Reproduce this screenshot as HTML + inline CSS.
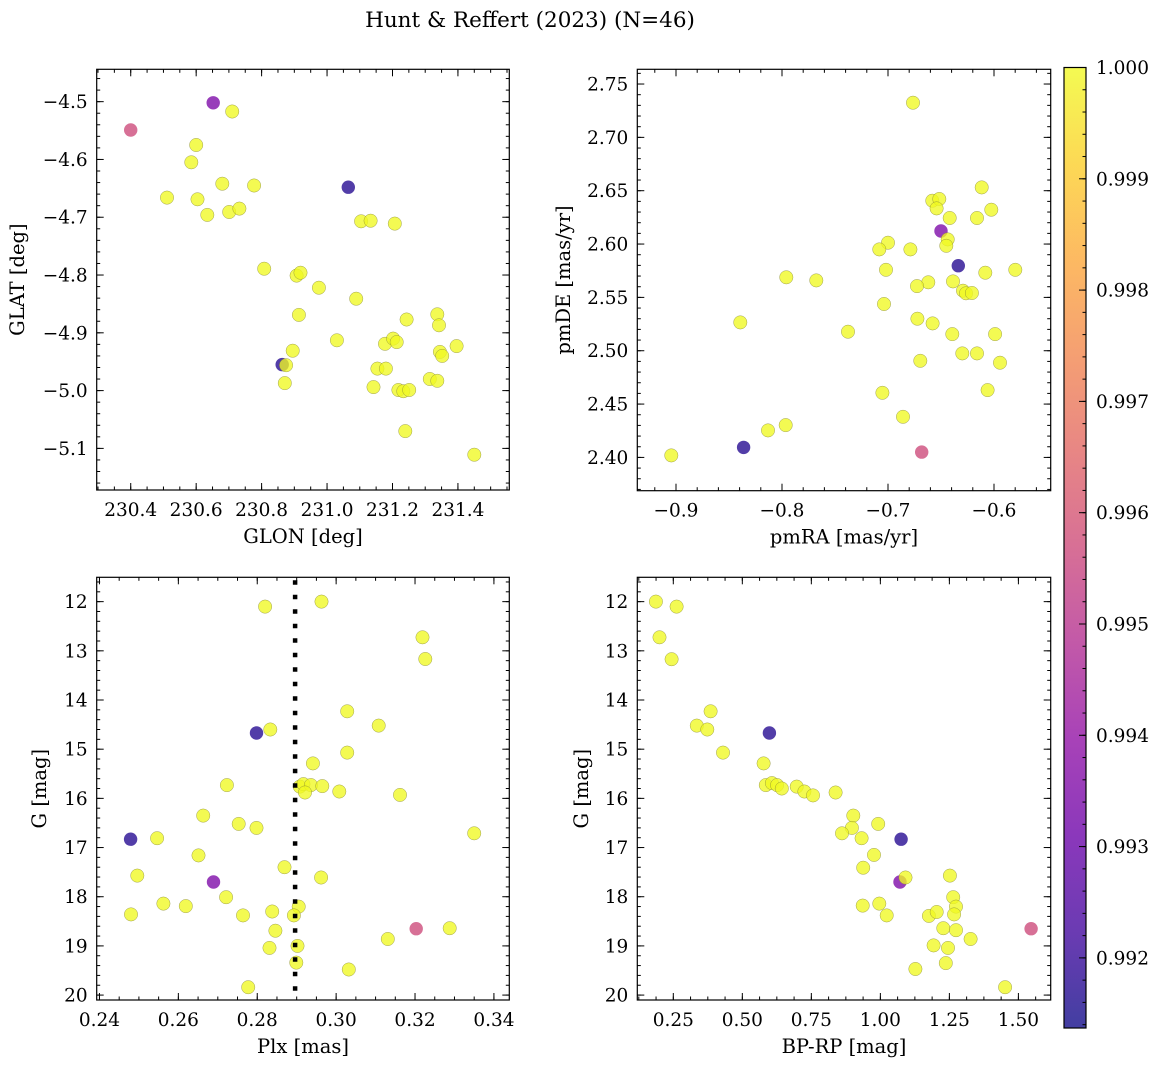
<!DOCTYPE html>
<html><head><meta charset="utf-8"><style>
body{margin:0;background:#fff;}
svg{display:block;font-family:"DejaVu Serif","Liberation Serif",serif;}
</style></head><body>
<svg id="fig" width="1161" height="1067" viewBox="0 0 1161 1067" xmlns="http://www.w3.org/2000/svg">
<rect width="1161" height="1067" fill="#fff"/>
<text x="530" y="27" font-size="21.5" text-anchor="middle">Hunt &amp; Reffert (2023) (N=46)</text>
</svg>
<script>
// ---- data ----
const glon=[230.40,230.652,230.710,230.600,230.585,230.511,230.604,230.680,230.634,230.701,230.732,230.777,231.065,231.104,231.133,231.207,230.808,230.907,230.919,230.975,231.089,230.914,231.337,231.342,231.243,231.030,230.895,231.177,231.202,231.213,231.396,231.345,231.352,231.154,231.180,230.863,230.875,230.871,231.142,231.218,231.233,231.251,231.314,231.337,231.239,231.450];
const glat=[-4.549,-4.502,-4.517,-4.575,-4.605,-4.666,-4.669,-4.642,-4.696,-4.691,-4.685,-4.645,-4.648,-4.707,-4.706,-4.711,-4.789,-4.801,-4.796,-4.822,-4.841,-4.869,-4.868,-4.887,-4.877,-4.913,-4.931,-4.919,-4.910,-4.916,-4.923,-4.933,-4.940,-4.962,-4.962,-4.955,-4.956,-4.987,-4.994,-4.999,-5.001,-4.999,-4.980,-4.983,-5.070,-5.111];
const probA=[0.9957,0.9935,1,1,1,1,1,1,1,1,1,1,0.9917,1,1,1,1,1,1,1,1,1,1,1,1,1,1,1,1,1,1,1,1,1,1,0.9917,1,1,1,1,1,1,1,1,1,1];

const pmra=[-0.6764,-0.6116,-0.6582,-0.6516,-0.6541,-0.6025,-0.6418,-0.6160,-0.6500,-0.6437,-0.6450,-0.7000,-0.7082,-0.6789,-0.6337,-0.7019,-0.6082,-0.5799,-0.7959,-0.7676,-0.6387,-0.6620,-0.6726,-0.6292,-0.6264,-0.6208,-0.7038,-0.6723,-0.6579,-0.8393,-0.7377,-0.6393,-0.5990,-0.6299,-0.6160,-0.6695,-0.5943,-0.7053,-0.6060,-0.6858,-0.7965,-0.8132,-0.8362,-0.6682,-0.9044];
const pmde=[2.7325,2.6531,2.6406,2.6422,2.6334,2.6322,2.6244,2.6244,2.6122,2.6044,2.5984,2.6013,2.5950,2.5950,2.5797,2.5759,2.5731,2.5759,2.5688,2.5659,2.5650,2.5641,2.5606,2.5563,2.5538,2.5541,2.5438,2.5300,2.5256,2.5266,2.5178,2.5156,2.5156,2.4975,2.4975,2.4906,2.4888,2.4606,2.4631,2.4381,2.4303,2.4253,2.4094,2.4050,2.4019];
const probB=[1,1,1,1,1,1,1,1,0.9935,1,1,1,1,1,0.9917,1,1,1,1,1,1,1,1,1,1,1,1,1,1,1,1,1,1,1,1,1,1,1,1,1,1,1,0.9917,0.9957,1];

const plx=[0.2820,0.2963,0.3219,0.3226,0.3028,0.3108,0.2798,0.2833,0.3028,0.2941,0.2723,0.2908,0.2917,0.2936,0.2965,0.2921,0.3008,0.3162,0.2663,0.2753,0.2798,0.3350,0.2479,0.2546,0.2651,0.2496,0.2869,0.2962,0.2689,0.2721,0.2562,0.2619,0.2480,0.2764,0.2838,0.2905,0.2893,0.3203,0.3288,0.2846,0.3131,0.2831,0.2902,0.2899,0.3032,0.2777];
const gmagC=[12.10,12.00,12.725,13.166,14.23,14.52,14.67,14.60,15.07,15.29,15.73,15.76,15.71,15.73,15.75,15.88,15.86,15.93,16.35,16.52,16.60,16.71,16.83,16.81,17.16,17.57,17.40,17.61,17.70,18.01,18.14,18.19,18.36,18.38,18.30,18.20,18.38,18.65,18.64,18.69,18.86,19.04,19.00,19.34,19.48,19.84];
const probC=[1,1,1,1,1,1,0.9917,1,1,1,1,1,1,1,1,1,1,1,1,1,1,1,0.9917,1,1,1,1,1,0.9935,1,1,1,1,1,1,1,1,0.9957,1,1,1,1,1,1,1,1];
const plxRef=[0.2896];

const bprp=[0.187,0.262,0.200,0.244,0.385,0.335,0.373,0.598,0.430,0.577,0.585,0.607,0.626,0.643,0.697,0.725,0.756,0.838,0.902,0.897,0.992,0.861,0.932,1.075,0.977,0.938,1.091,1.071,1.252,1.264,1.274,1.267,0.936,0.996,1.023,1.176,1.204,1.228,1.274,1.327,1.546,1.193,1.245,1.237,1.127,1.452];
const gmagD=[12.00,12.10,12.725,13.17,14.23,14.52,14.60,14.67,15.07,15.29,15.73,15.69,15.73,15.80,15.76,15.86,15.94,15.88,16.35,16.60,16.52,16.71,16.81,16.83,17.15,17.41,17.61,17.70,17.57,18.01,18.20,18.36,18.18,18.14,18.38,18.39,18.31,18.64,18.68,18.86,18.65,18.99,19.04,19.35,19.47,19.84];
const probD=[1,1,1,1,1,1,1,0.9917,1,1,1,1,1,1,1,1,1,1,1,1,1,1,1,0.9917,1,1,1,0.9935,1,1,1,1,1,1,1,1,1,1,1,1,0.9957,1,1,1,1,1];

const cbTicks=[0.992,0.993,0.994,0.995,0.996,0.997,0.998,0.999,1.000];

// ---- helpers ----
const NS="http://www.w3.org/2000/svg";
const svg=document.getElementById('fig');
function mk(tag,attrs,parent){const e=document.createElementNS(NS,tag);for(const k in attrs)e.setAttribute(k,attrs[k]);(parent||svg).appendChild(e);return e;}
const VMIN=0.99137,VMAX=1.0;
const stops=["#0d0887","#41049d","#6a00a8","#8f0da4","#b12a90","#cc4778","#e16462","#f2844b","#fca636","#fcce25","#f0f921"];
function hex(h){return [parseInt(h.substr(1,2),16),parseInt(h.substr(3,2),16),parseInt(h.substr(5,2),16)];}
function plasma(t){t=Math.max(0,Math.min(1,t));const f=t*10,i=Math.min(9,Math.floor(f)),r=f-i;const a=hex(stops[i]),b=hex(stops[i+1]);return "rgb("+a.map((v,k)=>Math.round(v+(b[k]-v)*r)).join(",")+")";}
function fmt(v,d){const s=Math.abs(v).toFixed(d);return (v<-1e-9?"\u2212":"")+s;}
function range(lo,hi,step){const out=[];const a=Math.ceil(lo/step-1e-6),b=Math.floor(hi/step+1e-6);for(let i=a;i<=b;i++)out.push(+(i*step).toFixed(6));return out;}
const TF=18.5, LF=19.5;

function panel(c){
  const g=mk('g',{});
  
  
  const sx=v=>c.L+(v-c.xlim[0])/(c.xlim[1]-c.xlim[0])*(c.R-c.L);
  const sy=v=>c.B-(v-c.ylim[0])/(c.ylim[1]-c.ylim[0])*(c.B-c.T);
  const idx=c.xs.map((_,i)=>i).sort((a,b)=>c.ps[a]-c.ps[b]);
  for(const i of idx){
    const p=c.ps[i];
    const pt=mk('circle',{cx:sx(c.xs[i]).toFixed(1),cy:sy(c.ys[i]).toFixed(1),r:6.7,fill:plasma((p-VMIN)/(VMAX-VMIN)),'fill-opacity':0.78,stroke:p>=0.9999?'#7a7a3a':'none','stroke-width':0.5,'stroke-opacity':0.7},g);
    
    
  }
  if(c.vline){for(const v of c.vline){const ln=mk('line',{x1:sx(v),x2:sx(v),y1:c.T+3,y2:c.B,stroke:'#000','stroke-width':4.5,'stroke-dasharray':'4.5 10'},g);
    
    }}
  mk('rect',{x:c.L,y:c.T,width:c.R-c.L,height:c.B-c.T,fill:'none',stroke:'#000','stroke-width':1.2},g);
  const tk=mk('g',{stroke:'#000','stroke-width':1},g);
  const lo=Math.min(...c.xlim),hi=Math.max(...c.xlim);
  for(const v of range(lo,hi,c.xminor)){const x=sx(v);mk('line',{x1:x,x2:x,y1:c.B,y2:c.B-3.5},tk);mk('line',{x1:x,x2:x,y1:c.T,y2:c.T+3.5},tk);}
  const ylo=Math.min(...c.ylim),yhi=Math.max(...c.ylim);
  for(const v of range(ylo,yhi,c.yminor)){const y=sy(v);mk('line',{x1:c.L,x2:c.L+3.5,y1:y,y2:y},tk);mk('line',{x1:c.R,x2:c.R-3.5,y1:y,y2:y},tk);}
  for(const v of c.xticks){const x=sx(v);mk('line',{x1:x,x2:x,y1:c.B,y2:c.B-7},tk);mk('line',{x1:x,x2:x,y1:c.T,y2:c.T+7},tk);
    const t=mk('text',{x:x,y:c.B+26,'font-size':TF,'text-anchor':'middle'},g);t.textContent=fmt(v,c.xd);
    
    }
  for(const v of c.yticks){const y=sy(v);mk('line',{x1:c.L,x2:c.L+7,y1:y,y2:y},tk);mk('line',{x1:c.R,x2:c.R-7,y1:y,y2:y},tk);
    const t=mk('text',{x:c.L-9,y:y+6.5,'font-size':TF,'text-anchor':'end'},g);t.textContent=fmt(v,c.yd);
    
    }
  const xl=mk('text',{x:(c.L+c.R)/2,y:c.B+53,'font-size':LF,'text-anchor':'middle'},g);xl.textContent=c.xlabel;
  
  
  const yl=mk('text',{x:c.ylx,y:(c.T+c.B)/2,'font-size':LF,'text-anchor':'middle',transform:'rotate(-90 '+c.ylx+' '+(c.T+c.B)/2+')'},g);yl.textContent=c.ylabel;
  
  
}

panel({name:'glon-glat-panel',ptname:'star-point',L:96.7,T:69.3,R:509.3,B:490,xlim:[230.296,231.557],ylim:[-5.172,-4.444],xs:glon,ys:glat,ps:probA,
  xticks:[230.4,230.6,230.8,231.0,231.2,231.4],yticks:[-4.5,-4.6,-4.7,-4.8,-4.9,-5.0,-5.1],xminor:0.05,yminor:0.02,xd:1,yd:1,xlabel:'GLON [deg]',ylabel:'GLAT [deg]',ylx:24});
panel({name:'proper-motion-panel',ptname:'star-point',L:637.3,T:69.3,R:1050.7,B:490.7,xlim:[-0.9365,-0.5465],ylim:[2.3688,2.7638],xs:pmra,ys:pmde,ps:probB,
  xticks:[-0.9,-0.8,-0.7,-0.6],yticks:[2.40,2.45,2.50,2.55,2.60,2.65,2.70,2.75],xminor:0.02,yminor:0.01,xd:1,yd:2,xlabel:'pmRA [mas/yr]',ylabel:'pmDE [mas/yr]',ylx:570});
panel({name:'parallax-magnitude-panel',ptname:'star-point',L:96.7,T:577.3,R:509.3,B:1000,xlim:[0.2393,0.3439],ylim:[20.10,11.505],xs:plx,ys:gmagC,ps:probC,vline:plxRef,
  xticks:[0.24,0.26,0.28,0.30,0.32,0.34],yticks:[12,13,14,15,16,17,18,19,20],xminor:0.005,yminor:0.2,xd:2,yd:0,xlabel:'Plx [mas]',ylabel:'G [mag]',ylx:46});
panel({name:'color-magnitude-panel',ptname:'star-point',L:637.3,T:577.3,R:1050.7,B:1000,xlim:[0.1196,1.617],ylim:[20.10,11.505],xs:bprp,ys:gmagD,ps:probD,
  xticks:[0.25,0.50,0.75,1.00,1.25,1.50],yticks:[12,13,14,15,16,17,18,19,20],xminor:0.0625,yminor:0.2,xd:2,yd:0,xlabel:'BP-RP [mag]',ylabel:'G [mag]',ylx:588});

(function(){
  const L=1064,R=1086,T=67.5,B=1028;
  const cb=mk('g',{});
  
  
  const defs=mk('defs',{},cb);
  const gr=mk('linearGradient',{id:'plg',x1:0,y1:1,x2:0,y2:0},defs);
  stops.forEach((s,i)=>mk('stop',{offset:i/10,'stop-color':s},gr));
  mk('rect',{x:L,y:T,width:R-L,height:B-T,fill:'url(#plg)','fill-opacity':0.78},cb);
  mk('rect',{x:L,y:T,width:R-L,height:B-T,fill:'none',stroke:'#000','stroke-width':1.2},cb);
  const sy=v=>B-(v-VMIN)/(VMAX-VMIN)*(B-T);
  for(const v of range(VMIN,VMAX,0.0002)){mk('line',{x1:R,x2:R-3.5,y1:sy(v),y2:sy(v),stroke:'#000'},cb);}
  for(const v of cbTicks){const y=sy(v);mk('line',{x1:R,x2:R-7,y1:y,y2:y,stroke:'#000'},cb);
    const t=mk('text',{x:1096,y:y+6.5,'font-size':TF},cb);t.textContent=v.toFixed(3);
    
    }
})();
</script>
</body></html>
